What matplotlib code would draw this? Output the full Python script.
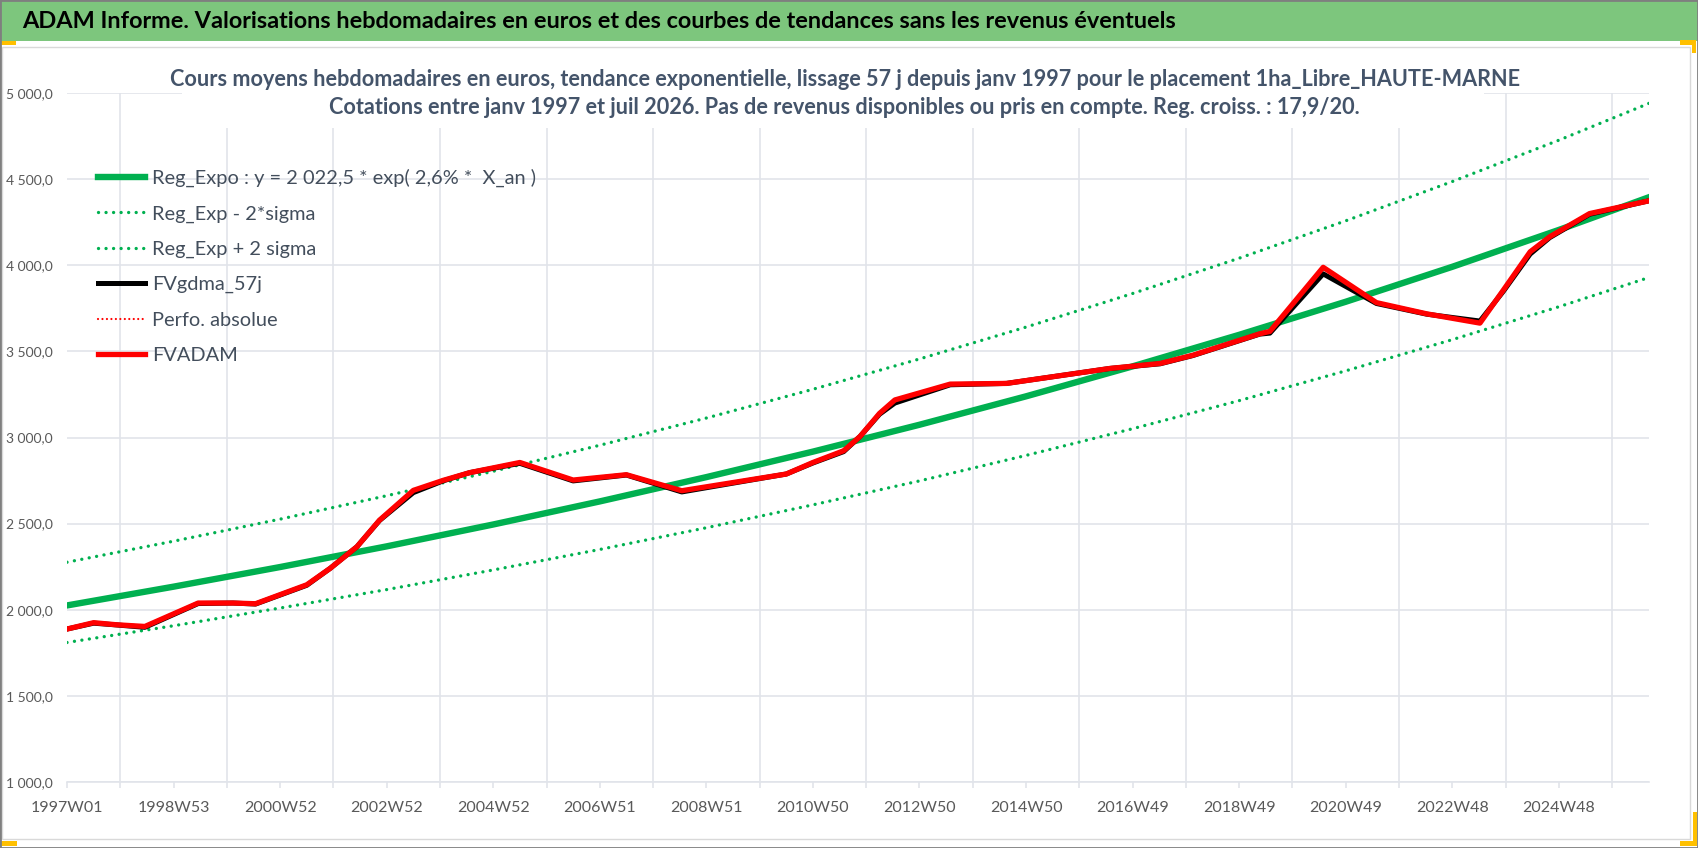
import matplotlib
matplotlib.use("Agg")
import matplotlib.pyplot as plt
from matplotlib.patches import Rectangle

W, H = 1698, 848          # output size in px (dpi 100)

HEADER = ("ADAM Informe. Valorisations hebdomadaires en euros et des courbes "
          "de tendances sans les revenus éventuels")
TITLE_1 = ("Cours moyens hebdomadaires en euros, tendance exponentielle, lissage 57 j "
           "depuis janv 1997 pour le placement 1ha_Libre_HAUTE-MARNE")
TITLE_2 = ("Cotations entre janv 1997 et juil 2026. Pas de revenus disponibles "
           "ou pris en compte. Reg. croiss. : 17,9/20.")
REG_LABEL = "Reg_Expo : y = 2 022,5 * exp( 2,6% *  X_an )"

# x axis = week number since 1997W01, one label every 104 weeks
TICK_LABELS = ["1997W01", "1998W53", "2000W52", "2002W52", "2004W52", "2006W51",
               "2008W51", "2010W50", "2012W50", "2014W50", "2016W49", "2018W49",
               "2020W49", "2022W48", "2024W48"]
N_WEEKS = 1544

# regression curve and its 2 sigma bands, read at each labelled week + last week
REG_X = [0, 104, 208, 312, 416, 520, 624, 728, 832, 936, 1040, 1144, 1248, 1352, 1456, 1544]
REG_EXPO = [2025, 2134, 2248, 2368, 2495, 2629, 2770, 2918, 3074, 3239, 3413, 3596,
            3788, 3991, 4205, 4395]
REG_LOW = [1810, 1907, 2010, 2117, 2231, 2350, 2476, 2609, 2748, 2896, 3051, 3214,
           3387, 3568, 3759, 3929]
REG_HIGH = [2276, 2398, 2526, 2662, 2804, 2955, 3113, 3280, 3456, 3641, 3836, 4041,
            4258, 4486, 4726, 4940]

# smoothed valuation (FVADAM) and 57 j moving average (FVgdma_57j)
FV_X = [0, 26, 48, 76, 128, 162, 184, 234, 257, 283, 305, 338, 367, 393, 442, 494,
        546, 600, 702, 728, 758, 774, 793, 808, 862, 917, 1018, 1067, 1099, 1164,
        1174, 1226, 1278, 1327, 1379, 1402, 1428, 1447, 1486, 1543]
FVADAM = [1888, 1925, 1913, 1903, 2039, 2039, 2035, 2145, 2241, 2366, 2520, 2693,
          2751, 2796, 2855, 2753, 2784, 2691, 2788, 2855, 2923, 3006, 3140, 3218,
          3310, 3314, 3401, 3430, 3478, 3602, 3616, 3988, 3783, 3718, 3664, 3857,
          4078, 4165, 4300, 4373]
FVGDMA = [1888, 1922, 1912, 1898, 2036, 2039, 2033, 2142, 2241, 2366, 2518, 2680,
          2748, 2796, 2850, 2748, 2782, 2684, 2788, 2852, 2918, 3006, 3135, 3200,
          3306, 3314, 3401, 3428, 3476, 3600, 3606, 3950, 3778, 3716, 3676, 3850,
          4065, 4160, 4296, 4373]
PERFO = FVADAM  # hidden under FVADAM

GREEN = "#00B050"
RED = "#FF0000"
GRID = "#E1E4EA"
TXT = "#595959"
DOTS = (0, (0.01, 2.25))

plt.rcParams["font.family"] = ["Lato", "DejaVu Sans"]

fig = plt.figure(figsize=(W / 100, H / 100), dpi=100)
renderer = fig.canvas.get_renderer()


def fx(px):
    return px / W


def fy(py):
    return 1 - py / H


def width_of(txt):
    return txt.get_window_extent(renderer).width


ax = fig.add_axes([fx(67), fy(782), fx(1649) - fx(67), fy(93) - fy(782)])

ax.plot(REG_X, REG_EXPO, color=GREEN, lw=4.6, label=REG_LABEL, zorder=3)
ax.plot(REG_X, REG_LOW, color=GREEN, lw=2.4, ls=DOTS, dash_capstyle="round",
        label="Reg_Exp - 2*sigma", zorder=3)
ax.plot(REG_X, REG_HIGH, color=GREEN, lw=2.4, ls=DOTS, dash_capstyle="round",
        label="Reg_Exp + 2 sigma", zorder=3)
ax.plot(FV_X, FVGDMA, color="black", lw=3.6, label="FVgdma_57j", zorder=4)
ax.plot(FV_X, PERFO, color=RED, lw=1.6, ls=(0, (0.01, 2.0)), dash_capstyle="round",
        label="Perfo. absolue", zorder=4)
ax.plot(FV_X, FVADAM, color=RED, lw=3.8, label="FVADAM", zorder=5)

ax.set_xlim(0, N_WEEKS)
ax.set_ylim(1000, 5000)
ax.set_xticks(range(0, 104 * len(TICK_LABELS), 104))
ax.set_xticklabels(TICK_LABELS)
ax.set_xticks(range(0, N_WEEKS, 52), minor=True)
yt = list(range(1000, 5001, 500))
ax.set_yticks(yt)
ax.set_yticklabels([f"{v:,.1f}".replace(",", " ").replace(".", ",") for v in yt])

ax.grid(axis="y", color=GRID, lw=1.2)
ax.grid(axis="x", which="minor", color=GRID, lw=1.2)
ax.set_axisbelow(True)
for s in ("top", "right", "left"):
    ax.spines[s].set_visible(False)
ax.spines["bottom"].set_color(GRID)
ax.spines["bottom"].set_linewidth(1.2)
ax.tick_params(axis="x", which="both", direction="out", length=4.5, width=1.2,
               color=GRID, labelsize=11.5, labelcolor=TXT, pad=9)
ax.tick_params(axis="y", length=0, labelsize=10, labelcolor=TXT, pad=10)

# legend font sized so the longest label is as wide as in the reference
probe = fig.text(0, 0, REG_LABEL, fontsize=15)
leg_size = 15 * 386 / width_of(probe)
probe.remove()
leg = fig.legend(loc="upper left", bbox_to_anchor=(fx(98), fy(169)), frameon=False,
                 fontsize=leg_size, handlelength=2.35, handletextpad=0.35,
                 labelspacing=0.9, borderpad=0, borderaxespad=0)
for t in leg.get_texts():
    t.set_color("#434E5C")

# header band, chart border and selection handles
fig.patches.append(Rectangle((0, fy(41)), 1, fy(0) - fy(41), transform=fig.transFigure,
                             facecolor="#7DC67D", edgecolor="none", zorder=0))
fig.patches.append(Rectangle((fx(2), fy(839)), fx(1690) - fx(2), fy(47) - fy(839),
                             transform=fig.transFigure, facecolor="none",
                             edgecolor="#D9D9D9", lw=1, zorder=1))
# white box behind chart title
fig.patches.append(Rectangle((fx(182), fy(128)), fx(1484) - fx(182), fy(60) - fy(128),
                             transform=fig.transFigure, facecolor="white",
                             edgecolor="none", zorder=2))
for (x0, y0, x1, y1) in [(0, 41, 16, 45), (1680, 40, 1696, 45), (1692, 40, 1696, 53),
                         (0, 841, 17, 846), (1680, 841, 1696, 846), (1693, 812, 1697, 846)]:
    fig.patches.append(Rectangle((fx(x0), fy(y1)), fx(x1) - fx(x0), fy(y0) - fy(y1),
                                 transform=fig.transFigure, facecolor="#FFC000",
                                 edgecolor="none", zorder=3))
fig.patches.append(Rectangle((0, 0), 1, 1, transform=fig.transFigure, facecolor="none",
                             edgecolor="#7F7F7F", lw=2, zorder=4))

h = fig.text(fx(22), fy(22), HEADER, ha="left", va="center", fontsize=17,
             fontweight="bold", color="black")
h.set_fontsize(17 * 1156 / width_of(h))

t1 = fig.text(fx(845), fy(80), TITLE_1, ha="center", va="center", fontsize=14,
              fontweight="bold", color="#44546A", zorder=5)
t2 = fig.text(fx(844), fy(108), TITLE_2, ha="center", va="center", fontsize=14,
              fontweight="bold", color="#44546A", zorder=5)
# both title lines share one size, picked from their widths in the reference
size = 0.5 * (14 * 1264 / width_of(t1) + 14 * 1108 / width_of(t2))
t1.set_fontsize(size)
t2.set_fontsize(size)

fig.savefig("out.png", dpi=100)
